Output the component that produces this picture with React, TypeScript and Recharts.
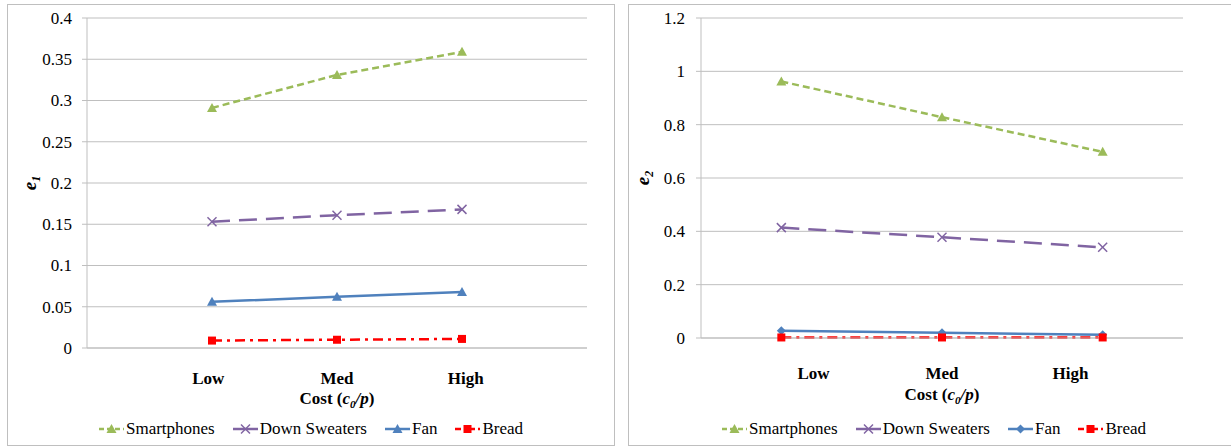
import React from 'react'
import { LineChart, Line, XAxis, YAxis, CartesianGrid, Legend } from 'recharts'

const COST_LEVELS = ['Low', 'Med', 'High']
const PRODUCTS = ['Smartphones', 'Down Sweaters', 'Fan', 'Bread']

// e1 panel (left)
const E1_SMARTPHONES = [0.291, 0.331, 0.359]
const E1_DOWN_SWEATERS = [0.153, 0.161, 0.168]
const E1_FAN = [0.056, 0.062, 0.068]
const E1_BREAD = [0.009, 0.01, 0.011]
const E1_TICKS = [0, 0.05, 0.1, 0.15, 0.2, 0.25, 0.3, 0.35, 0.4]

// e2 panel (right)
const E2_SMARTPHONES = [0.962, 0.828, 0.698]
const E2_DOWN_SWEATERS = [0.414, 0.378, 0.34]
const E2_FAN = [0.027, 0.02, 0.012]
const E2_BREAD = [0.002, 0.002, 0.002]
const E2_TICKS = [0, 0.2, 0.4, 0.6, 0.8, 1, 1.2]

const SERIF = 'Liberation Serif, Times New Roman, serif'
const GRID = '#BFBFBF'

const STYLES = [
  { key: 'smart', color: '#9BBB59', dash: '7 4', legendDash: '5 3', shape: 'triangle' },
  { key: 'down', color: '#8064A2', dash: '18 9', legendDash: undefined, shape: 'x' },
  { key: 'fan', color: '#4F81BD', dash: undefined, legendDash: undefined, shape: 'triangle' },
  { key: 'bread', color: '#FF0000', dash: '10 5 3 5', legendDash: '6 3 2 3', shape: 'square' },
]

function Marker({ shape, cx, cy, color }: { shape: string; cx: number; cy: number; color: string }) {
  if (cx == null || cy == null) return null
  if (shape === 'triangle') {
    return <path d={`M${cx},${cy - 5} L${cx + 5},${cy + 4} L${cx - 5},${cy + 4} Z`} fill={color} />
  }
  if (shape === 'diamond') {
    return <path d={`M${cx},${cy - 4.5} L${cx + 4.5},${cy} L${cx},${cy + 4.5} L${cx - 4.5},${cy} Z`} fill={color} />
  }
  if (shape === 'square') {
    return <rect x={cx - 4} y={cy - 4} width={8} height={8} fill={color} />
  }
  return (
    <g stroke={color} strokeWidth={1.5}>
      <line x1={cx - 4.5} y1={cy - 4.5} x2={cx + 4.5} y2={cy + 4.5} />
      <line x1={cx - 4.5} y1={cy + 4.5} x2={cx + 4.5} y2={cy - 4.5} />
    </g>
  )
}

function LegendRow({ fanShape }: { fanShape: string }) {
  return (
    <div style={{ display: 'flex', justifyContent: 'center', alignItems: 'center', height: 20 }}>
      {STYLES.map((s, i) => (
        <div key={s.key} style={{ display: 'flex', alignItems: 'center', marginRight: i < 3 ? 18 : 0 }}>
          <svg width={25} height={14} style={{ display: 'block' }}>
            <line x1={0} y1={7} x2={25} y2={7} stroke={s.color} strokeWidth={2.5} strokeDasharray={s.legendDash} />
            <Marker shape={s.key === 'fan' ? fanShape : s.shape} cx={12.5} cy={7} color={s.color} />
          </svg>
          <span style={{ marginLeft: 2, fontFamily: SERIF, fontSize: 17, color: '#000' }}>{PRODUCTS[i]}</span>
        </div>
      ))}
    </div>
  )
}

interface PanelProps {
  width: number
  yAxisWidth: number
  marginRight: number
  xAxisHeight: number
  xDomain: [number, number]
  yDomain: [number, number]
  yTicks: number[]
  series: number[][]
  sub: string
  fanShape: string
  labelSpread: number
  tickOffset: number
  titleOffset: number
  titleX: number
  tickGap: number
}

function Panel(p: PanelProps) {
  const height = 440
  const data = COST_LEVELS.map((_, i) => ({
    x: i + 1,
    smart: p.series[0][i],
    down: p.series[1][i],
    fan: p.series[2][i],
    bread: p.series[3][i],
  }))
  const plotCenter = p.yAxisWidth + (p.width - p.yAxisWidth - p.marginRight) / 2

  const renderTick = (t: any) => {
    const x = plotCenter + (t.x - plotCenter) * p.labelSpread
    return (
      <text x={x} y={t.y + p.tickOffset} textAnchor="middle" style={{ fontFamily: SERIF }} fontWeight="bold" fontSize={17} fill="#000">
        {COST_LEVELS[t.payload.value - 1]}
      </text>
    )
  }

  const renderYTick = (t: any) => (
    <text x={t.x} y={t.y} dy="0.35em" textAnchor="end" style={{ fontFamily: SERIF }} fontSize={17} fill="#000">
      {String(+Number(t.payload.value).toFixed(2))}
    </text>
  )

  const renderXTitle = (l: any) => {
    const vb = l.viewBox
    return (
      <text x={vb.x + vb.width / 2} y={vb.y + p.titleOffset} textAnchor="middle" style={{ fontFamily: SERIF }} fontWeight="bold" fontSize={17} fill="#000">
        Cost (<tspan fontStyle="italic">c</tspan>
        <tspan fontStyle="italic" fontSize={11} dy={4}>0</tspan>
        <tspan fontStyle="italic" dy={-4}>/p</tspan>)
      </text>
    )
  }

  const renderYTitle = (l: any) => {
    const vb = l.viewBox
    const cx = p.titleX
    const cy = vb.y + vb.height / 2
    return (
      <text x={cx} y={cy} transform={`rotate(-90, ${cx}, ${cy})`} textAnchor="middle" style={{ fontFamily: SERIF }} fontWeight="bold" fontStyle="italic" fontSize={19} fill="#000">
        e<tspan fontSize={12} dy={4}>{p.sub}</tspan>
      </text>
    )
  }

  return (
    <LineChart width={p.width} height={height} data={data} margin={{ top: 13, right: p.marginRight, left: 0, bottom: 6 }}>
      <CartesianGrid vertical={false} stroke={GRID} />
      <XAxis
        dataKey="x"
        type="number"
        domain={p.xDomain}
        ticks={[1, 2, 3]}
        interval={0}
        height={p.xAxisHeight}
        tickSize={0}
        tickMargin={0}
        tickLine={false}
        axisLine={{ stroke: GRID }}
        tick={renderTick}
        label={{ content: renderXTitle }}
      />
      <YAxis
        type="number"
        width={p.yAxisWidth}
        domain={p.yDomain}
        ticks={p.yTicks}
        interval={0}
        tickSize={5}
        tickMargin={p.tickGap}
        axisLine={{ stroke: GRID }}
        tickLine={{ stroke: GRID }}
        tick={renderYTick}
        label={{ content: renderYTitle }}
      />
      <Legend
        verticalAlign="bottom"
        wrapperStyle={{ left: 0, width: p.width, height: 20 }}
        content={() => <LegendRow fanShape={p.fanShape} />}
      />
      {STYLES.map((s) => (
        <Line
          key={s.key}
          dataKey={s.key}
          type="linear"
          stroke={s.color}
          strokeWidth={2.5}
          strokeDasharray={s.dash}
          isAnimationActive={false}
          activeDot={false}
          dot={(d: any) => (
            <Marker key={`${s.key}-${d.index}`} shape={s.key === 'fan' ? p.fanShape : s.shape} cx={d.cx} cy={d.cy} color={s.color} />
          )}
        />
      ))}
    </LineChart>
  )
}

const boxStyle = (left: number, width: number): React.CSSProperties => ({
  position: 'absolute',
  left,
  top: 4,
  width,
  height: 440,
  border: `1px solid ${GRID}`,
  background: '#fff',
})

export default function App() {
  return (
    <div style={{ position: 'absolute', left: 0, top: 0, width: 1231, height: 447, overflow: 'hidden', background: '#fff' }}>
      <div style={boxStyle(7, 606)}>
        <Panel
          width={606}
          yAxisWidth={79}
          marginRight={27}
          xAxisHeight={71}
          xDomain={[0, 4]}
          yDomain={[0, 0.4]}
          yTicks={E1_TICKS}
          series={[E1_SMARTPHONES, E1_DOWN_SWEATERS, E1_FAN, E1_BREAD]}
          sub="1"
          fanShape="triangle"
          labelSpread={1.03}
          tickOffset={36}
          titleOffset={56}
          titleX={28}
          tickGap={10}
        />
      </div>
      <div style={boxStyle(628, 610)}>
        <Panel
          width={610}
          yAxisWidth={72}
          marginRight={56}
          xAxisHeight={81}
          xDomain={[0.5, 3.5]}
          yDomain={[0, 1.2]}
          yTicks={E2_TICKS}
          series={[E2_SMARTPHONES, E2_DOWN_SWEATERS, E2_FAN, E2_BREAD]}
          sub="2"
          fanShape="diamond"
          labelSpread={0.8}
          tickOffset={41}
          titleOffset={62}
          titleX={20}
          tickGap={11}
        />
      </div>
    </div>
  )
}
